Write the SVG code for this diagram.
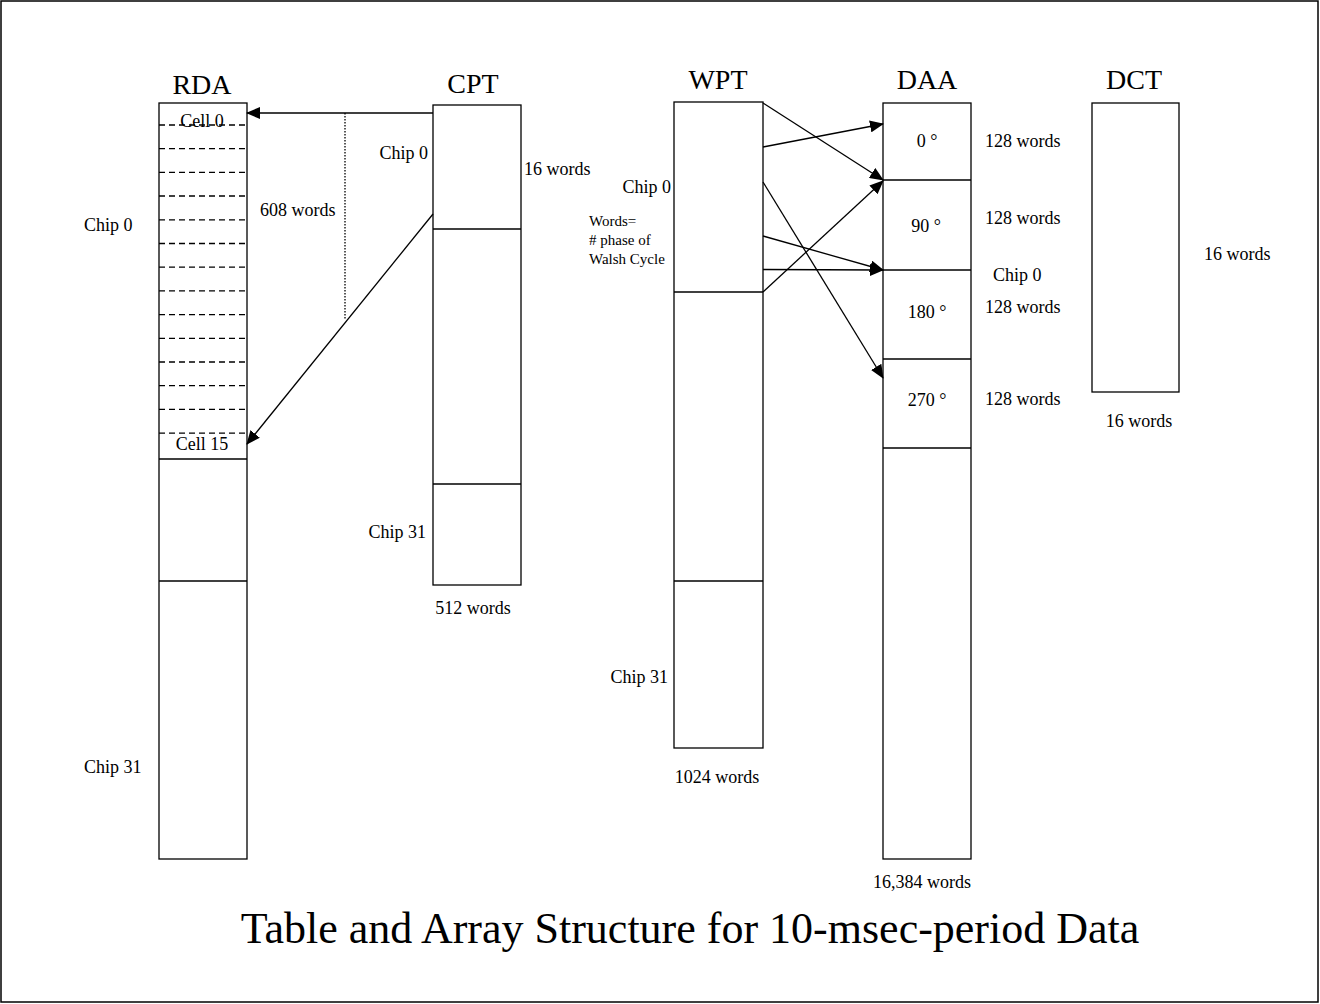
<svg xmlns="http://www.w3.org/2000/svg" width="1320" height="1004" viewBox="0 0 1320 1004">
<style>
text{font-family:"Liberation Serif","Times New Roman",serif;fill:#000}
.t{font-size:28px;text-anchor:middle}
.l{font-size:18px}
.s{font-size:15px}
.m{text-anchor:middle}
.e{text-anchor:end}
.box{fill:#fff;stroke:#000;stroke-width:1.3}
.div{stroke:#000;stroke-width:1.3}
.dash{stroke:#000;stroke-width:1.3;stroke-dasharray:6,4}
.con{stroke:#000;stroke-width:1.3;fill:none}
</style>
<defs>
<marker id="ah" markerWidth="14" markerHeight="12" refX="13" refY="6" orient="auto" markerUnits="userSpaceOnUse">
<path d="M0,0 L14,6 L0,12 z" fill="#000"/>
</marker>
</defs>
<rect x="1" y="1" width="1317" height="1001" fill="#fff" stroke="#000" stroke-width="1.5"/>

<g id="RDA">
<text class="t" x="202" y="94">RDA</text>
<rect class="box" x="159" y="103" width="88" height="756"/>
<line class="dash" x1="159" y1="125" x2="247" y2="125"/>
<line class="dash" x1="159" y1="148.7" x2="247" y2="148.7"/>
<line class="dash" x1="159" y1="172.4" x2="247" y2="172.4"/>
<line class="dash" x1="159" y1="196" x2="247" y2="196"/>
<line class="dash" x1="159" y1="219.8" x2="247" y2="219.8"/>
<line class="dash" x1="159" y1="243.5" x2="247" y2="243.5"/>
<line class="dash" x1="159" y1="267.2" x2="247" y2="267.2"/>
<line class="dash" x1="159" y1="290.9" x2="247" y2="290.9"/>
<line class="dash" x1="159" y1="314.6" x2="247" y2="314.6"/>
<line class="dash" x1="159" y1="338.3" x2="247" y2="338.3"/>
<line class="dash" x1="159" y1="362" x2="247" y2="362"/>
<line class="dash" x1="159" y1="385.7" x2="247" y2="385.7"/>
<line class="dash" x1="159" y1="409.4" x2="247" y2="409.4"/>
<line class="dash" x1="159" y1="433.1" x2="247" y2="433.1"/>
<line class="div" x1="159" y1="459" x2="247" y2="459"/>
<line class="div" x1="159" y1="581" x2="247" y2="581"/>
<text class="l m" x="202" y="127">Cell 0</text>
<text class="l m" x="202" y="450">Cell 15</text>
<text class="l" x="84" y="231">Chip 0</text>
<text class="l" x="84" y="773">Chip 31</text>
<text class="l" x="260" y="216">608 words</text>
</g>

<g id="CPT">
<text class="t" x="473" y="93">CPT</text>
<rect class="box" x="433" y="105" width="88" height="480"/>
<line class="div" x1="433" y1="229" x2="521" y2="229"/>
<line class="div" x1="433" y1="484" x2="521" y2="484"/>
<text class="l e" x="428" y="159">Chip 0</text>
<text class="l" x="524" y="175">16 words</text>
<text class="l e" x="426" y="538">Chip 31</text>
<text class="l m" x="473" y="614">512 words</text>
</g>

<g id="WPT">
<text class="t" x="718" y="89">WPT</text>
<rect class="box" x="674" y="102" width="89" height="646"/>
<line class="div" x1="674" y1="292" x2="763" y2="292"/>
<line class="div" x1="674" y1="581" x2="763" y2="581"/>
<text class="l e" x="671" y="193">Chip 0</text>
<text class="s" x="589" y="226">Words=</text>
<text class="s" x="589" y="245">#  phase of</text>
<text class="s" x="589" y="264">Walsh Cycle</text>
<text class="l e" x="668" y="683">Chip 31</text>
<text class="l m" x="717" y="783">1024 words</text>
</g>

<g id="DAA">
<text class="t" x="927" y="89">DAA</text>
<rect class="box" x="883" y="103" width="88" height="756"/>
<line class="div" x1="883" y1="180" x2="971" y2="180"/>
<line class="div" x1="883" y1="270" x2="971" y2="270"/>
<line class="div" x1="883" y1="359" x2="971" y2="359"/>
<line class="div" x1="883" y1="448" x2="971" y2="448"/>
<text class="l m" x="927" y="147">0 °</text>
<text class="l m" x="926" y="232">90 °</text>
<text class="l m" x="927" y="318">180 °</text>
<text class="l m" x="927" y="406">270 °</text>
<text class="l" x="985" y="147">128 words</text>
<text class="l" x="985" y="224">128 words</text>
<text class="l" x="993" y="281">Chip 0</text>
<text class="l" x="985" y="313">128 words</text>
<text class="l" x="985" y="405">128 words</text>
<text class="l m" x="922" y="888">16,384 words</text>
</g>

<g id="DCT">
<text class="t" x="1134" y="89">DCT</text>
<rect class="box" x="1092" y="103" width="87" height="289"/>
<text class="l" x="1204" y="260">16 words</text>
<text class="l m" x="1139" y="427">16 words</text>
</g>

<g id="connectors">
<line class="con" x1="433" y1="113" x2="247" y2="113" marker-end="url(#ah)"/>
<line class="con" x1="345" y1="113" x2="345" y2="320" stroke-dasharray="1.5,1.5" stroke-width="1"/>
<line class="con" x1="433" y1="214" x2="247" y2="444" marker-end="url(#ah)"/>
<line class="con" x1="763" y1="103" x2="883" y2="180" marker-end="url(#ah)"/>
<line class="con" x1="763" y1="147" x2="883" y2="124" marker-end="url(#ah)"/>
<line class="con" x1="763" y1="182" x2="883" y2="378" marker-end="url(#ah)"/>
<line class="con" x1="763" y1="236" x2="883" y2="270" marker-end="url(#ah)"/>
<line class="con" x1="763" y1="269.5" x2="883" y2="270" marker-end="url(#ah)"/>
<line class="con" x1="763" y1="292" x2="883" y2="181" marker-end="url(#ah)"/>
</g>

<text x="690" y="943" style="font-size:44px;text-anchor:middle">Table and Array Structure for 10-msec-period Data</text>
</svg>
